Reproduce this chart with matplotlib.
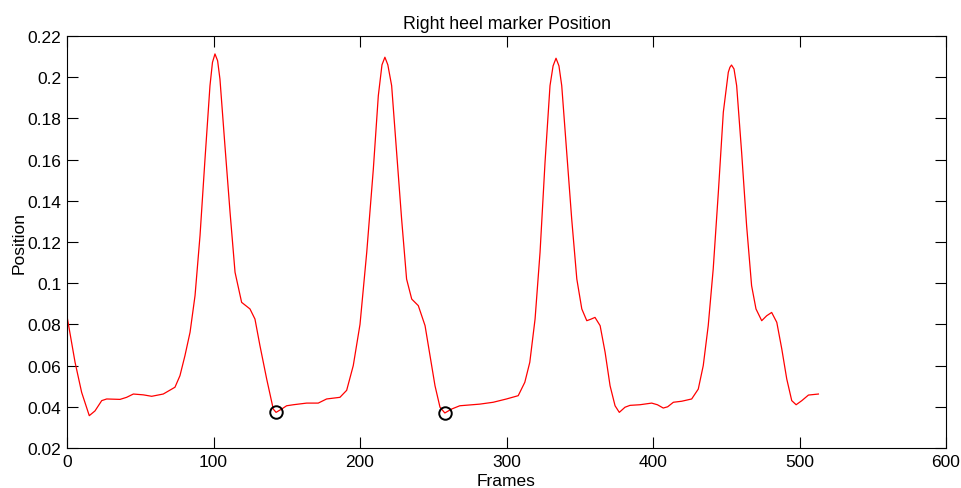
import matplotlib
matplotlib.use("Agg")
import matplotlib.pyplot as plt

plt.rcParams['font.family'] = ['Liberation Sans', 'DejaVu Sans']

frames = [0, 5.5, 10, 15.2, 19.1, 23.7, 27.1, 36.2, 40.7, 45.3, 52.1, 57.8, 65.7,
          73.7, 77.1, 80.5, 84, 87.4, 90.8, 94.2, 97.6, 99.3, 101, 102.8, 104.4,
          107.8, 111.3, 114.7, 119.2, 124.9, 128.3, 131.7, 136.3, 140.8, 142.7,
          146.5, 149.9, 154.5, 163.6, 171.5, 177.2, 186.3, 190.9, 195.4, 200,
          204.6, 209.1, 212.5, 215, 217, 219, 221.6, 225, 228.4, 231.8, 235.3,
          239.8, 244.4, 247.8, 251.2, 254.6, 257.9, 262.5, 268.1, 281.8, 290.9,
          300, 308, 312.5, 315.9, 319.5, 322.9, 326.3, 329.7, 331.8, 333.8, 335.8,
          337.7, 341.1, 344.5, 348, 351.4, 354.8, 357.5, 360.4, 363.9, 367.3,
          370.7, 374.1, 377, 380.9, 384.3, 391.1, 399.1, 403, 407, 410, 413.9,
          419.6, 426.4, 430.9, 434.3, 437.7, 441.1, 444.6, 448, 451.4, 452.5,
          453.6, 455.3, 457.1, 460.5, 463.9, 467.3, 470.3, 474.2, 477.6, 481,
          484.5, 487.9, 491.3, 494.7, 497.7, 501.6, 506.1, 512.9]
position = [0.084, 0.0616, 0.047, 0.0357, 0.038, 0.0430, 0.0438, 0.0436, 0.0446,
            0.0462, 0.0458, 0.0451, 0.0462, 0.0495, 0.0551, 0.0648, 0.0762, 0.094,
            0.1231, 0.1603, 0.1959, 0.2072, 0.2113, 0.2080, 0.1991, 0.1668, 0.1344,
            0.1053, 0.0907, 0.0875, 0.0826, 0.0697, 0.0535, 0.0389, 0.0373, 0.0389,
            0.0405, 0.0410, 0.0418, 0.0418, 0.0438, 0.0446, 0.048, 0.0600, 0.080,
            0.115, 0.1554, 0.191, 0.2060, 0.2097, 0.2060, 0.1959, 0.1635, 0.1312,
            0.102, 0.0923, 0.0891, 0.0794, 0.0648, 0.0502, 0.0398, 0.037, 0.0389,
            0.0405, 0.0413, 0.0422, 0.0438, 0.0454, 0.0519, 0.0616, 0.0826, 0.115,
            0.1587, 0.1959, 0.2055, 0.2092, 0.2055, 0.1959, 0.1635, 0.1312, 0.102,
            0.0875, 0.0818, 0.0825, 0.0834, 0.0794, 0.0665, 0.0502, 0.0405, 0.0373,
            0.0398, 0.0407, 0.041, 0.0418, 0.041, 0.0394, 0.040, 0.0422, 0.0427,
            0.0438, 0.0486, 0.06, 0.0794, 0.1069, 0.1441, 0.183, 0.2024, 0.2048,
            0.2059, 0.2040, 0.1959, 0.1635, 0.1279, 0.0988, 0.0875, 0.0818, 0.0842,
            0.0858, 0.081, 0.0681, 0.0535, 0.043, 0.041, 0.043, 0.0457, 0.0462]

event_frames = [142.7, 257.9]
event_values = [0.0373, 0.0370]

x_ticks = [0, 100, 200, 300, 400, 500, 600]
y_ticks = [0.02, 0.04, 0.06, 0.08, 0.1, 0.12, 0.14, 0.16, 0.18, 0.2, 0.22]
y_tick_labels = ['0.02', '0.04', '0.06', '0.08', '0.1', '0.12', '0.14', '0.16',
                 '0.18', '0.2', '0.22']

fig = plt.figure(figsize=(9.61, 4.89), dpi=100)
ax = fig.add_axes([67 / 961, 1 - 449 / 489, 879 / 961, 412 / 489])

ax.plot(frames, position, color='red', lw=0.9)
ax.plot(event_frames, event_values, 'o', mfc='none', mec='black', ms=9, mew=1.4)

ax.set_xlim(0, 600)
ax.set_ylim(0.02, 0.22)
ax.set_xticks(x_ticks)
ax.set_xticklabels([str(t) for t in x_ticks])
ax.set_yticks(y_ticks)
ax.set_yticklabels(y_tick_labels)
ax.tick_params(direction='in', length=8, width=0.8, top=True, right=True,
               labelsize=12.5, pad=4)
for s in ax.spines.values():
    s.set_linewidth(0.8)

ax.set_title('Right heel marker Position', fontsize=12.8, pad=6)
ax.set_xlabel('Frames', fontsize=12.5, labelpad=3)
ax.set_ylabel('Position', fontsize=12.5, labelpad=1)

fig.savefig('out.png', dpi=100)
